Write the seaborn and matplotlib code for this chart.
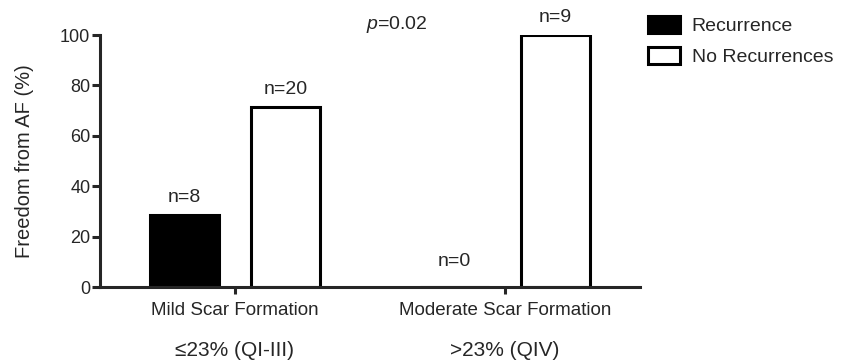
import matplotlib
matplotlib.use("Agg")
import matplotlib.pyplot as plt
import seaborn as sns
import pandas as pd

# Data
categories = ["Mild Scar Formation", "Moderate Scar Formation"]
sublabels = ["\u226423% (QI-III)", ">23% (QIV)"]
groups = ["Recurrence", "No Recurrences"]
recurrence = [28.57, 0.0]
no_recurrence = [71.43, 100.0]
n_recurrence = [8, 0]
n_no_recurrence = [20, 9]

sns.set_style("ticks")
plt.rcParams["font.family"] = ["Liberation Sans", "DejaVu Sans"]
plt.rcParams["mathtext.fontset"] = "custom"
plt.rcParams["mathtext.it"] = "Liberation Sans:italic"
plt.rcParams["mathtext.rm"] = "Liberation Sans"

df = pd.DataFrame({
    "category": categories * 2,
    "group": [groups[0]] * 2 + [groups[1]] * 2,
    "value": recurrence + no_recurrence,
    "n": n_recurrence + n_no_recurrence,
})

LW = 2.2
fig = plt.figure(figsize=(8.46, 3.64), dpi=100)
ax = fig.add_axes([0.1182, 0.2115, 0.6383, 0.6923])

sns.barplot(data=df, x="category", y="value", hue="group",
            order=categories, hue_order=groups,
            palette={"Recurrence": "black", "No Recurrences": "white"},
            saturation=1, width=0.75, gap=0.32,
            edgecolor="black", linewidth=LW, errorbar=None, ax=ax)

# n= labels over the bars
for container, grp in zip(ax.containers, groups):
    sub = df[df["group"] == grp].set_index("category").loc[categories]
    for bar, n, v in zip(container, sub["n"], sub["value"]):
        pad = 12 if v == 0 else 6.5
        ax.annotate(f"n={n}", (bar.get_x() + bar.get_width() / 2, v),
                    xytext=(0, pad), textcoords="offset points",
                    ha="center", va="bottom", fontsize=14)

ax.set_xlim(-0.5, 1.5)
ax.set_ylim(0, 100)
ax.set_yticks([0, 20, 40, 60, 80, 100])
ax.set_xlabel("")
ax.set_ylabel("Freedom from AF (%)", fontsize=14.5, labelpad=19)
sns.despine(ax=ax)
for side in ["left", "bottom"]:
    ax.spines[side].set_linewidth(LW)
ax.tick_params(axis="y", length=6, width=LW, labelsize=13, pad=1)
ax.tick_params(axis="x", length=5, width=LW, labelsize=13.5, pad=6)

# second line of category labels
for i, s in enumerate(sublabels):
    ax.text(i, -0.25, s, transform=ax.get_xaxis_transform(),
            ha="center", va="center", fontsize=15)

ax.text(0.6, 104, "$p$=0.02", ha="center", va="center",
        fontsize=14, clip_on=False)

handles, labels = ax.get_legend_handles_labels()
ax.get_legend().remove()
fig.legend(handles, labels, loc="upper left",
           bbox_to_anchor=(0.766, 0.955), frameon=False, fontsize=14,
           handlelength=1.65, handleheight=0.93, handletextpad=0.6,
           labelspacing=0.6, borderpad=0, borderaxespad=0)

fig.savefig("out.png", dpi=100, facecolor="white")
